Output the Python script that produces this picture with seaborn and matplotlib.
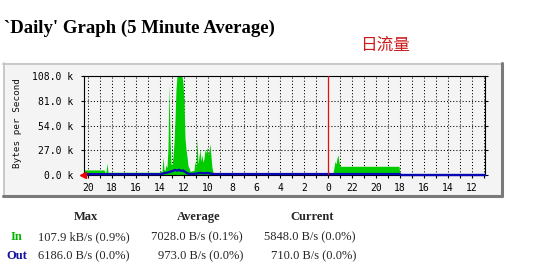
import matplotlib
matplotlib.use("Agg")
import matplotlib.pyplot as plt
import matplotlib.patches as mpatches
from matplotlib.lines import Line2D
import seaborn as sns

W, H, DPI = 540, 274, 100

# ---- data (x = number of 5-minute samples before "now", y = kB/s) ----
in_age = [0, 1, 20, 21, 22, 23, 24, 76, 77, 78, 79, 80, 81, 82, 83, 84, 85, 86, 87, 88,
          89, 90, 91, 92, 93, 98, 99, 100, 101, 102, 103, 104, 105, 106, 110, 111, 112,
          113, 114, 115, 116, 117, 118, 119, 120, 121, 122, 123, 124, 125, 126, 127,
          128, 129, 130, 244, 249, 250, 251, 252, 253, 254, 255, 256, 257, 315, 316, 401]
in_kbps = [5.8, 5.5, 5.5, 3.0, 3.2, 13.0, 3.0, 3.0, 4.5, 3.5, 19.6, 6.0, 5.0, 11.0, 8.0,
           30.0, 99.0, 40.0, 12.0, 11.0, 20.0, 35.0, 60.0, 94.0, 108.0, 108.0, 100.0,
           80.0, 40.0, 28.0, 20.0, 10.0, 8.0, 4.0, 5.0, 15.0, 8.0, 40.0, 12.0, 20.0,
           28.0, 15.0, 22.0, 14.0, 18.0, 28.0, 24.0, 30.0, 22.0, 26.0, 34.0, 20.0, 8.0,
           3.0, 2.5, 2.5, 2.5, 8.0, 15.0, 12.0, 18.0, 22.0, 14.0, 10.0, 9.5, 9.5, 0.0, 0.0]

out_age = [0, 1, 76, 78, 80, 83, 86, 89, 91, 93, 95, 97, 99, 101, 103, 105, 108, 112,
           116, 120, 124, 128, 130, 316, 317, 401]
out_kbps = [0.7, 0.9, 0.9, 1.2, 2.0, 2.5, 3.5, 4.5, 5.5, 4.8, 5.6, 4.5, 5.0, 3.5, 2.0,
            1.2, 1.0, 1.5, 2.2, 1.8, 2.2, 1.2, 1.0, 1.0, 0.0, 0.0]

hour_labels = ['20', '18', '16', '14', '12', '10', '8', '6', '4', '2', '0',
               '22', '20', '18', '16', '14', '12']
first_hour_age = 4          # 20:00 was 4 samples ago
samples_per_hour = 12
midnight_age = 244
y_ticks = [0, 27, 54, 81, 108]
y_tick_labels = ['0.0 k', '27.0 k', '54.0 k', '81.0 k', '108.0 k']

table_cols = ['Max', 'Average', 'Current']
in_stats = ['107.9 kB/s (0.9%)', '7028.0 B/s (0.1%)', '5848.0 B/s (0.0%)']
out_stats = ['6186.0 B/s (0.0%)', '973.0 B/s (0.0%)', '710.0 B/s (0.0%)']

title = "`Daily' Graph (5 Minute Average)"
subtitle = "日流量"
ylabel = "Bytes per Second"

# ---- style ----
sns.set_style("white")
plt.rcParams['font.family'] = ['DejaVu Sans', 'Noto Sans CJK SC']

IN_COLOR = '#00cc00'
OUT_COLOR = '#0a0ab4'

fig = plt.figure(figsize=(W / DPI, H / DPI), dpi=DPI)
fig.patch.set_facecolor('white')

def fx(px):
    return px / W

def fy(py):
    return 1 - py / H

# panel background with 3D border
panel = mpatches.Rectangle((fx(3), fy(195)), fx(499), 132 / H, transform=fig.transFigure,
                           facecolor='#f4f4f4', edgecolor='none', zorder=-2)
fig.add_artist(panel)
for (x0, y0, x1, y1, c, lw) in [
        (3, 63.5, 502, 63.5, '#c8c8c8', 1.4),
        (3.5, 63, 3.5, 195, '#c8c8c8', 1.4),
        (501.5, 63, 501.5, 196, '#7a7a7a', 2.2),
        (3, 195.5, 502, 195.5, '#7a7a7a', 2.2)]:
    fig.add_artist(Line2D([fx(x0), fx(x1)], [fy(y0), fy(y1)], transform=fig.transFigure,
                          color=c, lw=lw, zorder=-1))

ax = fig.add_axes([fx(84), fy(175), 401 / W, 99 / H])
ax.set_facecolor('none')
ax.set_xlim(0, 401)
ax.set_ylim(0, 108)

ax.fill_between(in_age, 0, in_kbps, color=IN_COLOR, lw=0, zorder=2)
sns.lineplot(x=out_age, y=out_kbps, ax=ax, color=OUT_COLOR, lw=1.7, zorder=3)
for ln in ax.lines:
    ln.set_clip_on(False)

ax.axvline(midnight_age, color='#dd1111', lw=0.9, zorder=4)

hour_pos = [first_hour_age + k * samples_per_hour for k in range(34)]
xlabels = []
for k in range(34):
    xlabels.append(hour_labels[k // 2] if k % 2 == 0 and k // 2 < len(hour_labels) else '')
ax.set_xticks(hour_pos)
ax.set_xticklabels(xlabels)
ax.set_yticks(y_ticks)
ax.set_yticklabels(y_tick_labels)

ax.grid(True, color='black', linestyle=(0, (1, 2)), lw=0.75, zorder=1)
ax.set_axisbelow(True)
for s in ax.spines.values():
    s.set_visible(True)
    s.set_color('black')
    s.set_linewidth(0.8)

ax.tick_params(axis='y', left=True, right=True, length=2.5, width=0.8, direction='out',
               pad=5.5, labelsize=7, colors='black')
ax.tick_params(axis='x', bottom=True, length=2.5, width=0.8, direction='out',
               pad=3.5, labelsize=7, colors='black')
for lbl in ax.get_xticklabels() + ax.get_yticklabels():
    lbl.set_fontfamily('DejaVu Sans Mono')
ax.set_xlabel('')
ax.set_ylabel('')

# red arrow at the origin
ax.plot([-1.5], [0], marker='<', ms=4.5, color='#ee0000', clip_on=False, zorder=6)

fig.text(fx(18), fy(123.5), ylabel, rotation=90, ha='center', va='center',
         fontsize=6.7, family='DejaVu Sans Mono', color='#111111')

# titles
fig.text(fx(3.5), fy(33), title, ha='left', va='baseline', fontsize=13.5,
         family='Liberation Serif', fontweight='bold', color='black')
fig.text(fx(385), fy(45), subtitle, ha='center', va='center', fontsize=12,
         family=['Noto Sans CJK SC', 'DejaVu Sans'], color='#cc1a1a')

# stats table
serif = 'Liberation Serif'
FS = 9
for name, cx in zip(table_cols, [86, 199, 312]):
    fig.text(fx(cx), fy(217), name, ha='center', va='center', fontsize=FS,
             family=serif, fontweight='bold')
fig.text(fx(16.5), fy(237), 'In', ha='center', va='center', fontsize=FS, family=serif,
         fontweight='bold', color='#00b400')
fig.text(fx(16.5), fy(256), 'Out', ha='center', va='center', fontsize=FS, family=serif,
         fontweight='bold', color='#1414a0')
for vals, yy in [(in_stats, 237), (out_stats, 256)]:
    for v, rx in zip(vals, [130, 243, 356]):
        fig.text(fx(rx), fy(yy), v, ha='right', va='center', fontsize=FS, family=serif)

fig.savefig('out.png', dpi=DPI)
